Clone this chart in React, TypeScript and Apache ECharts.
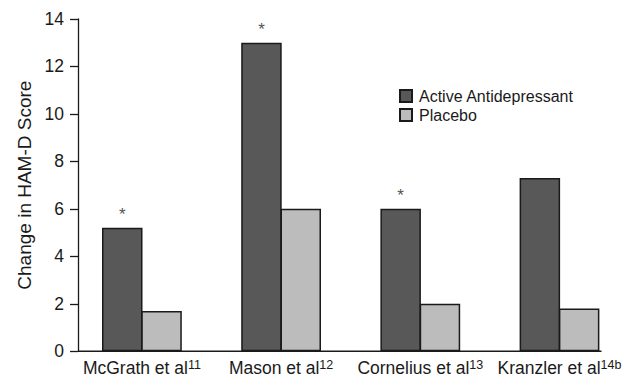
import React, { useEffect, useRef } from "react";
import * as echarts from "echarts";

const studies = ["McGrath et al", "Mason et al", "Cornelius et al", "Kranzler et al"];
const refs = ["11", "12", "13", "14b"];
const activeValues = [5.2, 13.0, 6.0, 7.3];
const placeboValues = [1.7, 6.0, 2.0, 1.8];
const significant = [true, true, true, false];
const yTicks = [0, 2, 4, 6, 8, 10, 12, 14];

const FONT = "'Liberation Sans', Arial, sans-serif";
const BAR_W = 40.5;

export default function App() {
  const ref = useRef<HTMLDivElement>(null);
  useEffect(() => {
    document.body.style.margin = "0";
    const chart = echarts.init(ref.current!, null, { renderer: "svg" });
    const option: any = {
      animation: false,
      backgroundColor: "#ffffff",
      textStyle: { fontFamily: FONT, color: "#1a1a1a" },
      grid: { left: 72.3, right: 8.9, top: 19, bottom: 24.5, containLabel: false },
      legend: {
        orient: "vertical",
        left: 399,
        top: 88,
        padding: 0,
        itemWidth: 12,
        itemHeight: 12,
        itemGap: 3,
        icon: "rect",
        textStyle: { fontFamily: FONT, fontSize: 16, color: "#1a1a1a", padding: [0, 0, 0, 2] },
        data: ["Active Antidepressant", "Placebo"],
      },
      xAxis: {
        type: "category",
        data: studies,
        axisLine: { show: false },
        axisTick: { show: false },
        axisLabel: {
          interval: 0,
          margin: 7,
          formatter: (v: string) => {
            const i = studies.indexOf(v);
            return `{a|${v}}{s|${refs[i]}}`;
          },
          rich: {
            a: { fontFamily: FONT, fontSize: 17.5, color: "#1a1a1a" },
            s: { fontFamily: FONT, fontSize: 12.5, color: "#1a1a1a", padding: [0, 0, 6.5, 0] },
          },
        },
      },
      yAxis: {
        type: "value",
        min: yTicks[0],
        max: yTicks[yTicks.length - 1],
        interval: 2,
        offset: -5.7,
        name: "Change in HAM-D Score",
        nameLocation: "middle",
        nameRotate: 90,
        nameGap: 44,
        nameTextStyle: { fontFamily: FONT, fontSize: 19, color: "#1a1a1a" },
        axisLine: { show: true, lineStyle: { color: "#1a1a1a", width: 1.3 } },
        axisTick: { show: true, inside: false, length: 8, lineStyle: { color: "#1a1a1a", width: 1.3 } },
        axisLabel: { fontFamily: FONT, fontSize: 17.5, color: "#1a1a1a", margin: 14 },
        splitLine: { show: false },
      },
      series: [
        {
          name: "Active Antidepressant",
          type: "bar",
          barWidth: BAR_W,
          barGap: "-3%",
          data: activeValues,
          itemStyle: { color: "#585858", borderColor: "#1a1a1a", borderWidth: 1.5 },
          label: {
            show: true,
            position: "top",
            distance: 5,
            fontFamily: FONT,
            fontSize: 17,
            color: "#555555",
            formatter: (p: any) => (significant[p.dataIndex] ? "*" : ""),
          },
        },
        {
          name: "Placebo",
          type: "bar",
          barWidth: BAR_W,
          barGap: "-3%",
          data: placeboValues,
          itemStyle: { color: "#bcbcbc", borderColor: "#1a1a1a", borderWidth: 1.5 },
        },
      ],
    };
    chart.setOption(option);
    const y0 = chart.convertToPixel({ yAxisIndex: 0 }, 0) as number;
    const lastCenter = chart.convertToPixel({ xAxisIndex: 0 }, studies.length - 1) as number;
    const firstCenter = chart.convertToPixel({ xAxisIndex: 0 }, 0) as number;
    const band = studies.length > 1 ? (lastCenter - firstCenter) / (studies.length - 1) : 0;
    const xStart = firstCenter - band / 2 + 5.7;
    const xEnd = lastCenter + BAR_W + 1.5;
    chart.setOption({
      graphic: [
        {
          type: "line",
          shape: { x1: xStart, y1: y0, x2: xEnd, y2: y0 },
          style: { stroke: "#1a1a1a", lineWidth: 1.3 },
          z: 10,
        },
      ],
    });
    return () => chart.dispose();
  }, []);
  return (
    <div
      ref={ref}
      style={{ position: "fixed", left: 0, top: 0, width: 638, height: 377, background: "#fff" }}
    />
  );
}
